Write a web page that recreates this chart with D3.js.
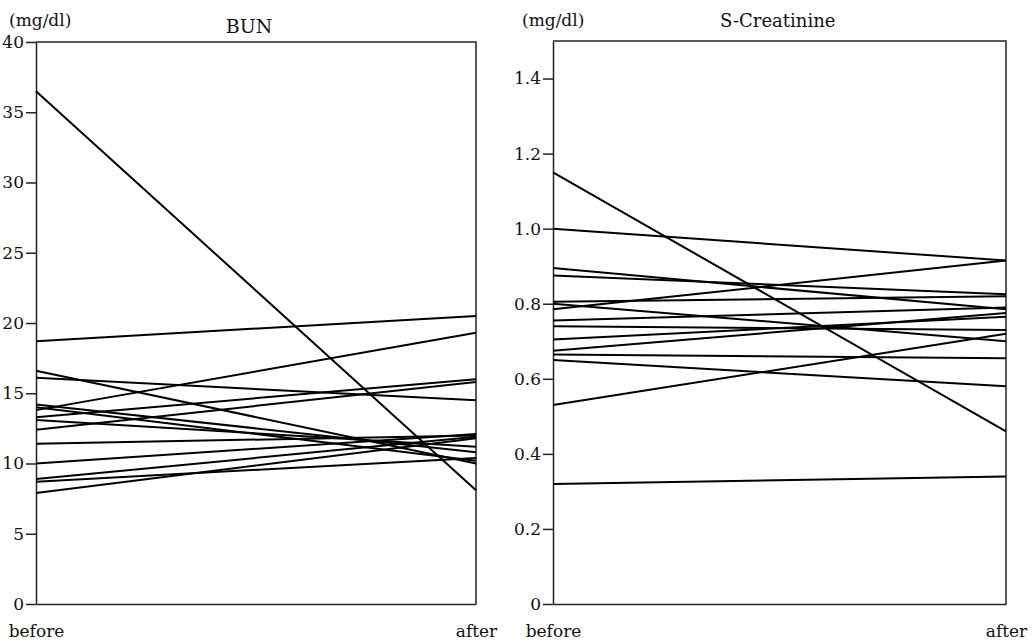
<html>
<head>
<script src="https://d3js.org/d3.v7.min.js"></script>
<style>
body { margin: 0; background: #fff; }
text { font-family: "DejaVu Serif", "Liberation Serif", serif; fill: #111; }
.tick line, .domain { stroke: #222; stroke-width: 1.5; }
</style>
</head>
<body>
<svg id="main_vis" width="1032" height="642"></svg>
<script>

// x categories
var groups = ["before", "after"];

// BUN (mg/dl), one entry per patient
var bunBefore = [36.5, 18.7, 16.6, 16.1, 13.8, 14.2, 14.0, 13.3, 13.1, 12.4, 11.4, 10.0, 8.9, 8.7, 7.9];
var bunAfter  = [8.1, 20.5, 10.0, 14.5, 19.3, 10.8, 10.2, 16.0, 11.2, 15.8, 12.0, 12.1, 11.9, 10.4, 11.8];
var bunTicks  = [0, 5, 10, 15, 20, 25, 30, 35, 40];

// S-Creatinine (mg/dl)
var crBefore = [1.15, 1.0, 0.895, 0.875, 0.805, 0.80, 0.785, 0.755, 0.74, 0.705, 0.675, 0.665, 0.65, 0.53, 0.32];
var crAfter  = [0.46, 0.915, 0.785, 0.825, 0.82, 0.70, 0.915, 0.79, 0.73, 0.765, 0.775, 0.655, 0.58, 0.72, 0.34];
var crTicks  = [0, 0.2, 0.4, 0.6, 0.8, 1.0, 1.2, 1.4];

var svg = d3.select("#main_vis");

function panel(left, right, top, bottom, yMax, ticks, fmt, before, after) {
  var x = d3.scalePoint().domain(groups).range([left, right]);
  var y = d3.scaleLinear().domain([0, yMax]).range([bottom, top]);

  // frame: top and right edges
  svg.append("path")
    .attr("d", "M" + left + "," + top + "H" + right + "V" + bottom)
    .attr("fill", "none")
    .attr("stroke", "#222")
    .attr("stroke-width", 1.5);

  // y axis
  var ya = svg.append("g")
    .attr("transform", "translate(" + left + ",0)")
    .call(d3.axisLeft(y).tickValues(ticks).tickFormat(fmt).tickSize(10).tickSizeOuter(0).tickPadding(2));
  ya.selectAll("text").attr("font-size", "17px");

  // x axis
  var xa = svg.append("g")
    .attr("transform", "translate(0," + bottom + ")")
    .call(d3.axisBottom(x).tickSize(0).tickPadding(21));
  xa.selectAll("text").attr("font-size", "17px");

  // one line per patient
  var pairs = before.map(function(b, i) { return [b, after[i]]; });
  svg.selectAll(null)
    .data(pairs)
    .enter().append("line")
    .attr("x1", x("before"))
    .attr("x2", x("after"))
    .attr("y1", function(d) { return y(d[0]); })
    .attr("y2", function(d) { return y(d[1]); })
    .attr("stroke", "#000")
    .attr("stroke-width", 2);
}

panel(36, 476, 42, 604, 40, bunTicks, d3.format("d"), bunBefore, bunAfter);
panel(553, 1006, 41, 604, 1.5, crTicks, function(d) { return d === 0 ? "0" : d3.format(".1f")(d); }, crBefore, crAfter);

// labels
svg.append("text").attr("x", 9).attr("y", 26).attr("font-size", "17px").text("(mg/dl)");
svg.append("text").attr("x", 522).attr("y", 26).attr("font-size", "17px").text("(mg/dl)");
svg.append("text").attr("x", 249).attr("y", 33).attr("text-anchor", "middle").attr("font-size", "19px").text("BUN");
svg.append("text").attr("x", 720).attr("y", 27).attr("font-size", "18px").text("S-Creatinine");

</script>
</body>
</html>
